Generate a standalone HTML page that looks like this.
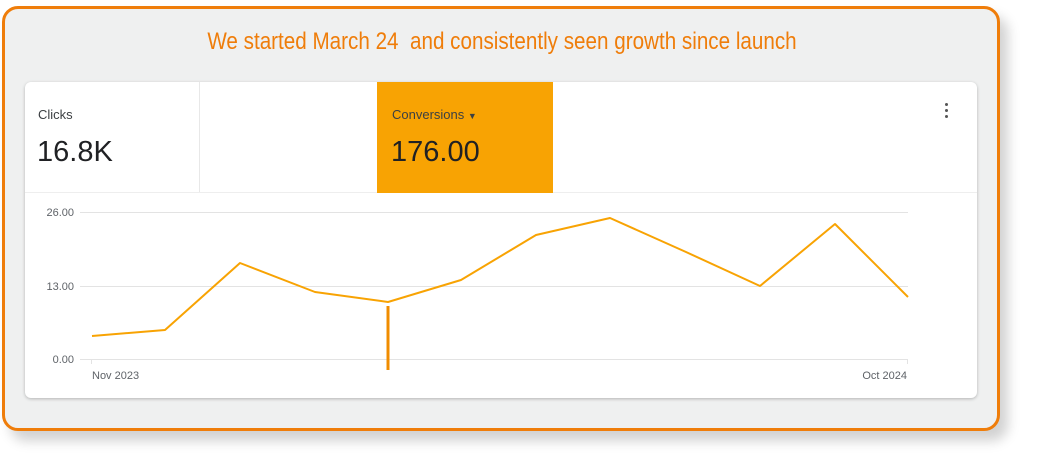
<!DOCTYPE html>
<html><head><style>
body{margin:0;width:1048px;height:464px;background:#fff;position:relative;overflow:hidden;font-family:"Liberation Sans",sans-serif}
.outer{position:absolute;left:2px;top:6px;width:992px;height:419px;border:3px solid #ef7d0a;border-radius:16px;background:#eff0f0;box-shadow:8px 10px 12px rgba(0,0,0,0.18)}
.title{position:absolute;left:0;width:1004px;top:28px;text-align:center;color:#ef7d0a;font-family:"Liberation Sans Narrow","Liberation Sans",sans-serif;font-size:24px;transform:scaleX(0.86);transform-origin:center}
.card{position:absolute;left:25px;top:82px;width:952px;height:316px;background:#fff;border-radius:6px;box-shadow:0 1px 3px rgba(0,0,0,0.25)}
.lab{position:absolute;font-size:13px;color:#3c4043}
.val{position:absolute;font-size:29px;color:#202124}
</style></head><body>
<div class="outer"></div>
<div class="title">We started March 24&nbsp; and consistently seen growth since launch</div>
<div class="card"></div>
<div style="position:absolute;left:199px;top:82px;width:1px;height:111px;background:#e8e8e8"></div>
<div style="position:absolute;left:25px;top:192px;width:952px;height:1px;background:#eee"></div>
<div style="position:absolute;left:377px;top:82px;width:176px;height:111px;background:#f8a303"></div>
<div class="lab" style="left:38px;top:107px">Clicks</div>
<div class="val" style="left:37px;top:136px">16.8K</div>
<div class="lab" style="left:392px;top:107px">Conversions <span style="font-size:9px">&#9660;</span></div>
<div class="val" style="left:391px;top:136px">176.00</div>
<div style="position:absolute;left:945px;top:103px;width:3px">
<div style="width:3px;height:3px;border-radius:50%;background:#555;margin-bottom:3px"></div>
<div style="width:3px;height:3px;border-radius:50%;background:#555;margin-bottom:3px"></div>
<div style="width:3px;height:3px;border-radius:50%;background:#555"></div></div>
<svg style="position:absolute;left:0;top:0" width="1048" height="464">
<g stroke="#e3e3e3" stroke-width="1">
<line x1="80" y1="212.5" x2="908" y2="212.5"/>
<line x1="80" y1="286.5" x2="908" y2="286.5"/>
<line x1="80" y1="359.5" x2="908" y2="359.5"/>
<line x1="91.5" y1="359" x2="91.5" y2="364"/><line x1="907.5" y1="359" x2="907.5" y2="364"/>
</g>
<g font-family="Liberation Sans" font-size="11" fill="#5f6368">
<text x="74" y="216" text-anchor="end">26.00</text>
<text x="74" y="290" text-anchor="end">13.00</text>
<text x="74" y="363" text-anchor="end">0.00</text>
<text x="92" y="379">Nov 2023</text>
<text x="907" y="379" text-anchor="end">Oct 2024</text>
</g>
<polyline fill="none" stroke="#f8a303" stroke-width="2" stroke-linejoin="round" points="92,336 165,330 240,263 315,292 388,302 461,280 536,235 610,218 686,252 760,286 835,224 908,297"/>
<line x1="388" y1="306" x2="388" y2="370" stroke="#f08c00" stroke-width="3"/>
</svg>
</body></html>
